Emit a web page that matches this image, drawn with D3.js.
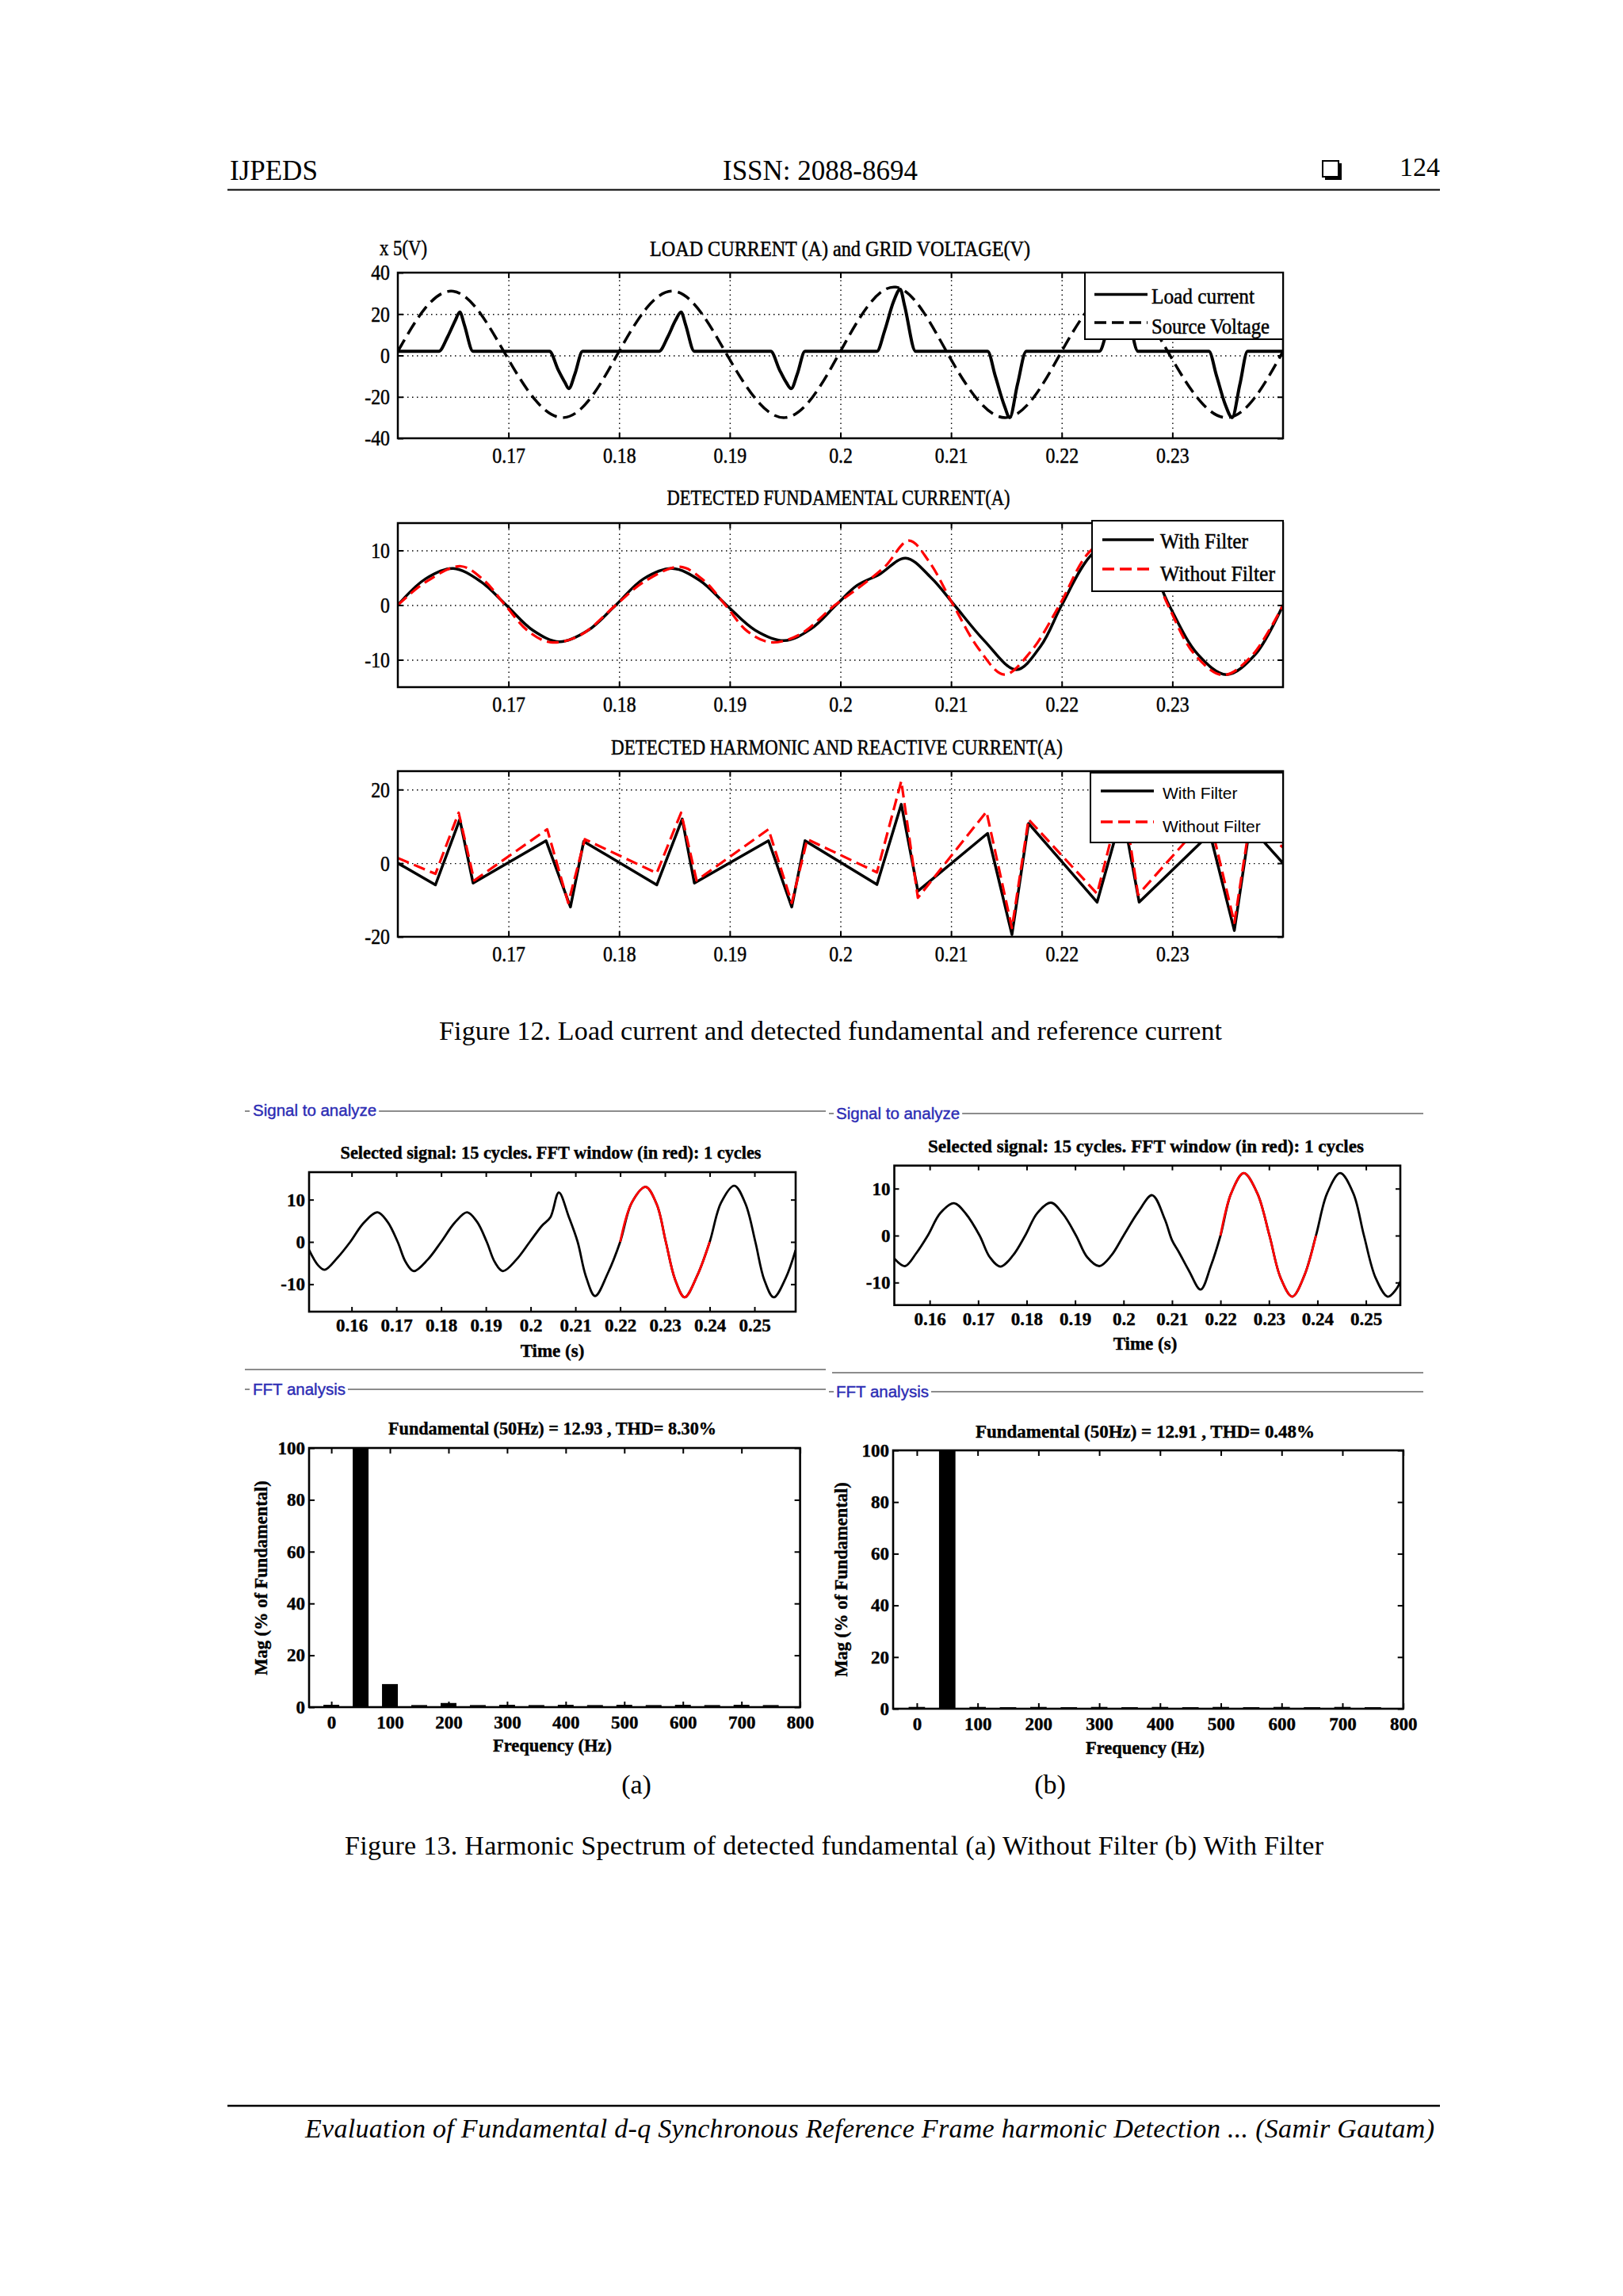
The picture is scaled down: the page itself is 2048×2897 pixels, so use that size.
<!DOCTYPE html>
<html>
<head>
<meta charset="utf-8">
<script src="https://cdn.jsdelivr.net/npm/d3@7"></script>
<style>
  html, body { margin: 0; padding: 0; background: #fff; overflow: hidden; }
  svg { display: block; }
</style>
</head>
<body>
<svg id="page" width="2048" height="2897"></svg>
<script>
// ---------- data ----------
// Fig 12 top: load current (A) and grid voltage (V, x5)
const loadT = [0.16,0.1637,0.1645,0.1652,0.1656,0.1660,0.1668,
  0.1737,0.1745,0.1751,0.17545,0.1760,0.1767,
  0.1836,0.1844,0.1851,0.1856,0.1860,0.1868,
  0.1937,0.1945,0.1951,0.19555,0.1961,0.1968,
  0.2033,0.2040,0.2048,0.2054,0.2058,0.2068,
  0.2133,0.2140,0.2148,0.2153,0.2160,0.2168,
  0.2234,0.2241,0.2249,0.2255,0.2259,0.2269,
  0.2333,0.2340,0.2348,0.2354,0.2361,0.2368,0.2400]
const loadA = [2,2,9,17,21,15,2,
  2,-7,-13,-16,-9,2,
  2,9,17,21,15,2,
  2,-7,-13,-16,-9,2,
  2,12,26,32,24,2,
  2,-10,-24,-30,-14,2,
  2,12,26,32,24,2,
  2,-10,-24,-30,-14,2,2]
const voltT = [0.16,0.1625,0.165,0.1675,0.17,0.1725,0.175,0.1775,0.18,0.1825,0.185,0.1875,0.19,0.1925,0.195,0.1975,
  0.20,0.2025,0.205,0.2075,0.21,0.2125,0.215,0.2175,0.22,0.2225,0.225,0.2275,0.23,0.2325,0.235,0.2375,0.24]
const voltV = [2,23,31,20,-2,-22,-30,-20,2,23,31,20,-2,-22,-30,-20,
  2,24,33,21,-2,-22,-30,-20,2,23,31,20,-2,-22,-30,-20,2]

// Fig 12 middle: detected fundamental current
const fundFiltT = [0.16,0.1625,0.165,0.1675,0.1698,0.1722,0.1746,0.1772,0.1797,0.1822,0.1848,0.1873,0.1897,0.1923,0.1949,0.1973,
  0.1996,0.2015,0.2035,0.2059,0.2082,0.2103,0.2130,0.2159,0.2181,0.2200,0.2226,0.2253,0.2276,0.2297,0.2323,0.2349,0.2375,0.2400]
const fundFiltV = [0,4.8,6.7,4.3,0,-4.6,-6.7,-4.6,0,4.8,6.7,4.5,0,-4.6,-6.5,-4.4,
  0,3.6,5.6,8.6,5.0,0,-6.5,-11.8,-7.5,0,9,12.8,9,0,-9,-12.7,-9,0]
const fundRawT = [0.16,0.1625,0.1657,0.1678,0.1697,0.1718,0.1738,0.1765,0.1797,0.1822,0.1855,0.1876,0.1896,0.1916,0.1937,0.1963,
  0.1995,0.2018,0.2040,0.2062,0.2080,0.2102,0.2125,0.2148,0.2172,0.2198,0.2224,0.2250,0.2275,0.2296,0.2320,0.2346,0.2372,0.2400]
const fundRawV = [0,4.2,7.1,4.5,0,-4.8,-6.8,-5.5,0,4.2,7.0,4.6,0,-4.8,-6.8,-5.4,
  0,3.4,7.0,11.8,8.0,0,-8,-12.7,-8.5,0,9.5,13,9.5,0,-9,-12.8,-9.2,0]

// Fig 12 bottom: detected harmonic and reactive current
const harmFiltT = [0.1600,0.1634,0.1656,0.1668,0.1734,0.1756,0.1768,0.1834,0.1857,0.1868,0.1935,0.1956,0.1968,
  0.2033,0.2055,0.2070,0.2133,0.2155,0.2170,0.2232,0.2255,0.2270,0.2334,0.2356,0.2370,0.2400]
const harmFiltV = [0,-5.9,11.9,-5.4,6.1,-11.9,5.9,-5.9,12,-5.4,6.1,-11.9,6.1,
  -5.8,16,-7.6,8.1,-19.4,10.8,-10.6,14,-10.6,8,-18.3,10,0]
const harmRawT = [0.1600,0.1634,0.1655,0.1669,0.1735,0.1754,0.1769,0.1834,0.1856,0.1870,0.1935,0.1956,0.1970,
  0.2033,0.2055,0.2070,0.2132,0.2155,0.2170,0.2232,0.2255,0.2269,0.2333,0.2356,0.2370,0.2400]
const harmRawV = [1.4,-2.9,13.7,-4.7,9.2,-10.8,6.5,-2.7,13.7,-4.7,9.2,-10.8,6.5,
  -2.5,22.3,-9.4,14,-17.6,11.9,-8.3,19,-8.6,13,-16.2,11,4.3]

// Fig 13: signals to analyze
const sigAT = [0.1505,0.1525,0.1540,0.1568,0.1597,0.1627,0.1658,0.1680,0.1703,0.1721,0.1739,0.1770,0.1800,0.1830,0.1858,0.1880,
  0.1902,0.1920,0.1938,0.1968,0.1998,0.2025,0.2044,0.2063,0.2085,0.2105,0.2123,0.2144,0.2172,0.2200,0.2226,0.2257,
  0.2282,0.2302,0.2323,0.2344,0.2372,0.2400,0.2425,0.2455,0.2480,0.2502,0.2522,0.2543,0.2570,0.2592]
const sigAV = [-1.9,-5.5,-6.6,-3.8,0,4.5,7.0,4.8,0,-4.8,-6.9,-4.2,0,4.5,7.0,4.8,
  0,-4.8,-6.9,-4.2,0,3.8,5.8,11.7,6,0,-8,-12.8,-7.5,0,9.3,13,
  8.8,0,-9,-13.1,-8,0,9.2,13.3,9,0,-9,-13.1,-8.5,-1.9]
const sigBT = [0.1527,0.1549,0.1572,0.1596,0.1622,0.1650,0.1675,0.1703,0.1724,0.1746,0.1772,0.1797,0.1822,0.1850,0.1875,0.1902,
  0.1925,0.1950,0.1975,0.2000,0.2030,0.2059,0.2085,0.2100,0.2114,0.2135,0.2159,0.2180,0.2200,0.2222,0.2248,0.2276,
  0.2301,0.2324,0.2348,0.2373,0.2397,0.2420,0.2447,0.2474,0.2496,0.2520,0.2545,0.2562,0.2571]
const sigBV = [-4.9,-6.5,-3.8,0,4.8,6.9,4.6,0,-4.6,-6.6,-4.2,0,4.8,7.0,4.6,0,
  -4.6,-6.5,-4.2,0,5.0,8.6,3.5,-1.0,-3.5,-7.5,-11.5,-6.5,0,9.0,13.3,9.0,
  0,-9,-13,-8.5,0,9.0,13.3,9.0,0,-9,-13,-11.5,-9.8]
const fftWindow = [0.22, 0.24]

// Fig 13: harmonic spectrum (% of fundamental)
const fftHz = [0,50,100,150,200,250,300,350,400,450,500,550,600,650,700,750]
const magNoFilter = [0.9,100,8.9,0.8,1.6,0.8,0.9,0.8,0.9,0.8,0.9,0.8,0.9,0.8,0.9,0.8]
const magFilter = [0.7,100,0.7,0.6,0.7,0.6,0.7,0.6,0.7,0.6,0.7,0.6,0.7,0.6,0.7,0.6]

// tick values
const tTicks12 = [0.17,0.18,0.19,0.2,0.21,0.22,0.23]
const yTicksLoad = [-40,-20,0,20,40]
const yTicksFund = [-10,0,10]
const yTicksHarm = [-20,0,20]
const tTicksSig = [0.16,0.17,0.18,0.19,0.2,0.21,0.22,0.23,0.24,0.25]
const yTicksSig = [-10,0,10]
const hzTicks = [0,100,200,300,400,500,600,700,800]
const pctTicks = [0,20,40,60,80,100]

// ---------- drawing ----------
const SERIF = "'Liberation Serif','Times New Roman',serif"
const SANS = "'Liberation Sans',Arial,sans-serif"
const BLUE = "#2c2cb4"
const RED = "#ff0000"
const svg = d3.select("#page")
svg.append("rect").attr("width", 2048).attr("height", 2897).attr("fill", "#fff")

function txt(parent, x, y, s, o = {}) {
  const t = parent.append("text").attr("x", x).attr("y", y).text(s)
    .attr("font-family", o.family || SERIF)
    .attr("font-size", o.size || 34)
    .attr("text-anchor", o.anchor || "start")
    .attr("fill", o.fill || "#000")
  if (o.weight) t.attr("font-weight", o.weight)
  if (o.italic) t.attr("font-style", "italic")
  if (o.heavy) t.attr("stroke", o.fill || "#000").attr("stroke-width", o.heavy)
  if (o.width) t.attr("textLength", o.width).attr("lengthAdjust", o.adjust || "spacingAndGlyphs")
  if (o.rotate) t.attr("transform", `rotate(${o.rotate},${x},${y})`)
  return t
}

// narrow the glyphs a bit, the matlab labels are condensed
function squeeze(sel, k) {
  sel.each(function () {
    const w = this.getComputedTextLength()
    d3.select(this).attr("textLength", w * k).attr("lengthAdjust", "spacingAndGlyphs")
  })
}

function hline(x1, x2, y, color, w) {
  svg.append("line").attr("x1", x1).attr("x2", x2).attr("y1", y).attr("y2", y)
    .attr("stroke", color).attr("stroke-width", w)
}

function axisAt(g, gen, tx, ty, tickW) {
  const a = g.append("g").attr("transform", `translate(${tx},${ty})`).call(gen)
  a.select(".domain").remove()
  a.selectAll("line").attr("stroke", "#000").attr("stroke-width", tickW)
  return a
}

// ---- page header / footer ----
txt(svg, 290, 227, "IJPEDS", {size: 35})
txt(svg, 1035, 227, "ISSN: 2088-8694", {size: 35, anchor: "middle"})
txt(svg, 1817, 222, "124", {size: 34, anchor: "end"})
svg.append("rect").attr("x", 1672).attr("y", 206).attr("width", 21).attr("height", 21)
  .attr("fill", "#000")
svg.append("rect").attr("x", 1669).attr("y", 203).attr("width", 20).attr("height", 20)
  .attr("fill", "#fff").attr("stroke", "#000").attr("stroke-width", 2)
hline(287, 1817, 239.5, "#000", 2.2)

hline(287, 1817, 2657, "#000", 2.5)
txt(svg, 1810, 2697, "Evaluation of Fundamental d-q Synchronous Reference Frame harmonic Detection ... (Samir Gautam)",
  {size: 34, anchor: "end", italic: true, width: 1425, adjust: "spacing"})

// ---- figure 12 ----
function wavePlot(c) {
  const x = d3.scaleLinear().domain([0.16, 0.24]).range([c.left, c.right])
  const y = d3.scaleLinear().domain(c.yDomain).range([c.bottom, c.top])
  const w = c.right - c.left, h = c.bottom - c.top
  const g = svg.append("g")

  g.append("clipPath").attr("id", "clip-" + c.id)
    .append("rect").attr("x", c.left).attr("y", c.top).attr("width", w).attr("height", h)

  // dotted grid
  const yGrid = c.yTicks.filter(v => v > c.yDomain[0] && v < c.yDomain[1])
  const grid = g.append("g")
  grid.append("g").attr("transform", `translate(0,${c.bottom})`)
    .call(d3.axisBottom(x).tickValues(tTicks12).tickSize(-h).tickFormat(""))
  grid.append("g").attr("transform", `translate(${c.left},0)`)
    .call(d3.axisLeft(y).tickValues(yGrid).tickSize(-w).tickFormat(""))
  grid.selectAll(".domain").remove()
  grid.selectAll("line").attr("stroke", "#000").attr("stroke-width", 1.4).attr("stroke-dasharray", "1.5,4.5")

  const plot = g.append("g").attr("clip-path", `url(#clip-${c.id})`)
  c.series.forEach(s => {
    const line = d3.line().x(d => x(d[0])).y(d => y(d[1])).curve(s.curve)
    plot.append("path").datum(d3.zip(s.t, s.v)).attr("d", line)
      .attr("fill", "none").attr("stroke", s.color).attr("stroke-width", s.width)
      .attr("stroke-dasharray", s.dash || null).attr("stroke-linejoin", "round")
  })

  g.append("rect").attr("x", c.left).attr("y", c.top).attr("width", w).attr("height", h)
    .attr("fill", "none").attr("stroke", "#000").attr("stroke-width", 2.5)

  const xb = axisAt(g, d3.axisBottom(x).tickValues(tTicks12).tickSizeInner(-7).tickSizeOuter(0)
    .tickPadding(11).tickFormat(d => String(d)), 0, c.bottom, 2)
  axisAt(g, d3.axisTop(x).tickValues(tTicks12).tickSizeInner(-7).tickSizeOuter(0).tickFormat(""), 0, c.top, 2)
  const yl = axisAt(g, d3.axisLeft(y).tickValues(c.yTicks).tickSizeInner(-7).tickSizeOuter(0)
    .tickPadding(10).tickFormat(d => String(d)), c.left, 0, 2)
  axisAt(g, d3.axisRight(y).tickValues(c.yTicks).tickSizeInner(-7).tickSizeOuter(0).tickFormat(""), c.right, 0, 2)
  ;[xb, yl].forEach(a => {
    a.attr("font-family", SERIF).attr("font-size", 28)
    a.selectAll("text").attr("fill", "#000").attr("stroke", "#000").attr("stroke-width", 0.5)
    squeeze(a.selectAll("text"), 0.85)
  })

  // legend
  const L = c.legend
  const lg = g.append("g")
  lg.append("rect").attr("x", L.x0).attr("y", L.y0).attr("width", L.x1 - L.x0).attr("height", L.y1 - L.y0)
    .attr("fill", "#fff").attr("stroke", "#000").attr("stroke-width", 2)
  L.items.forEach(it => {
    lg.append("line").attr("x1", L.lx0).attr("x2", L.lx1).attr("y1", it.ly).attr("y2", it.ly)
      .attr("stroke", it.color).attr("stroke-width", it.width).attr("stroke-dasharray", it.dash || null)
    txt(lg, L.tx, it.ty, it.label, {family: L.family, size: L.size, width: it.tw, heavy: L.heavy})
  })
}

wavePlot({
  id: "load", left: 502, right: 1619, top: 344, bottom: 553,
  yDomain: [-40, 40], yTicks: yTicksLoad,
  series: [
    {t: voltT, v: voltV, color: "#000", width: 3.5, dash: "17,8", curve: d3.curveNatural},
    {t: loadT, v: loadA, color: "#000", width: 4, curve: d3.curveMonotoneX}
  ],
  legend: {x0: 1369, y0: 344, x1: 1619, y1: 428, lx0: 1381, lx1: 1448, tx: 1453, family: SERIF, size: 28, heavy: 0.5,
    items: [
      {ly: 371.5, ty: 383, label: "Load current", tw: 130, color: "#000", width: 3.5},
      {ly: 407, ty: 421, label: "Source Voltage", tw: 149, color: "#000", width: 3.5, dash: "15,7"}
    ]}
})
txt(svg, 1060, 323, "LOAD CURRENT (A) and GRID VOLTAGE(V)", {size: 28, anchor: "middle", width: 480, heavy: 0.5})
txt(svg, 479, 322, "x 5(V)", {size: 28, width: 60, heavy: 0.5})

wavePlot({
  id: "fund", left: 502, right: 1619, top: 660, bottom: 867,
  yDomain: [-15, 15], yTicks: yTicksFund,
  series: [
    {t: fundFiltT, v: fundFiltV, color: "#000", width: 3.5, curve: d3.curveCatmullRom},
    {t: fundRawT, v: fundRawV, color: RED, width: 3.2, dash: "15,7", curve: d3.curveCatmullRom}
  ],
  legend: {x0: 1378, y0: 657, x1: 1619, y1: 746, lx0: 1391, lx1: 1456, tx: 1464, family: SERIF, size: 28, heavy: 0.5,
    items: [
      {ly: 681, ty: 692, label: "With Filter", tw: 111, color: "#000", width: 3.5},
      {ly: 718, ty: 733, label: "Without Filter", tw: 145, color: RED, width: 3.5, dash: "15,7"}
    ]}
})
txt(svg, 1058, 637, "DETECTED FUNDAMENTAL CURRENT(A)", {size: 28, anchor: "middle", width: 433, heavy: 0.5})

wavePlot({
  id: "harm", left: 502, right: 1619, top: 973, bottom: 1182,
  yDomain: [-20, 25], yTicks: yTicksHarm,
  series: [
    {t: harmFiltT, v: harmFiltV, color: "#000", width: 3.5, curve: d3.curveLinear},
    {t: harmRawT, v: harmRawV, color: RED, width: 3.2, dash: "15,7", curve: d3.curveLinear}
  ],
  legend: {x0: 1376, y0: 975, x1: 1619, y1: 1063, lx0: 1389, lx1: 1456, tx: 1467, family: SANS, size: 21,
    items: [
      {ly: 998, ty: 1008, label: "With Filter", color: "#000", width: 3.5},
      {ly: 1037, ty: 1050, label: "Without Filter", color: RED, width: 3.5, dash: "15,7"}
    ]}
})
txt(svg, 1056, 952, "DETECTED HARMONIC AND REACTIVE CURRENT(A)", {size: 28, anchor: "middle", width: 570, heavy: 0.5})

txt(svg, 554, 1312, "Figure 12. Load current and detected fundamental and reference current",
  {size: 34, width: 988, adjust: "spacing"})

// ---- figure 13 ----
function panelHead(x0, x1, textX, baseline, lineY, label) {
  hline(x0, x0 + 6, lineY, "#8c8c8c", 2)
  const t = txt(svg, textX, baseline, label, {family: SANS, size: 20.5, fill: BLUE, heavy: 0.4})
  const end = textX + t.node().getComputedTextLength() + 3
  hline(end, x1, lineY, "#8c8c8c", 2)
}

function boldLabels(a) {
  a.attr("font-family", SERIF).attr("font-size", 23).attr("font-weight", "bold")
  a.selectAll("text").attr("fill", "#000").attr("stroke", "#000").attr("stroke-width", 0.4)
}

function signalPlot(c) {
  const x = d3.scaleLinear().domain(c.xDomain).range([c.left, c.right])
  const y = d3.scaleLinear().domain(c.yDomain).range([c.bottom, c.top])
  const w = c.right - c.left, h = c.bottom - c.top
  const g = svg.append("g")
  g.append("clipPath").attr("id", "clip-" + c.id)
    .append("rect").attr("x", c.left).attr("y", c.top).attr("width", w).attr("height", h)

  const pts = d3.zip(c.t, c.v)
  const line = d3.line().x(d => x(d[0])).y(d => y(d[1])).curve(d3.curveCatmullRom)
  const plot = g.append("g").attr("clip-path", `url(#clip-${c.id})`)
  plot.append("path").datum(pts).attr("d", line).attr("fill", "none")
    .attr("stroke", "#000").attr("stroke-width", 2.8)
  plot.append("path").datum(pts.filter(d => d[0] >= fftWindow[0] && d[0] <= fftWindow[1]))
    .attr("d", line).attr("fill", "none").attr("stroke", RED).attr("stroke-width", 2.8)

  g.append("rect").attr("x", c.left).attr("y", c.top).attr("width", w).attr("height", h)
    .attr("fill", "none").attr("stroke", "#000").attr("stroke-width", 2.6)
  const xb = axisAt(g, d3.axisBottom(x).tickValues(tTicksSig).tickSizeInner(-6).tickSizeOuter(0)
    .tickPadding(9).tickFormat(d => String(d)), 0, c.bottom, 2)
  axisAt(g, d3.axisTop(x).tickValues(tTicksSig).tickSizeInner(-6).tickSizeOuter(0).tickFormat(""), 0, c.top, 2)
  const yl = axisAt(g, d3.axisLeft(y).tickValues(yTicksSig).tickSizeInner(-6).tickSizeOuter(0)
    .tickPadding(5).tickFormat(d => String(d)), c.left, 0, 2)
  axisAt(g, d3.axisRight(y).tickValues(yTicksSig).tickSizeInner(-6).tickSizeOuter(0).tickFormat(""), c.right, 0, 2)
  boldLabels(xb); boldLabels(yl)

  txt(svg, c.titleX, c.titleY, "Selected signal: 15 cycles. FFT window (in red): 1 cycles",
    {size: 24, weight: "bold", anchor: "middle", width: c.titleW, heavy: 0.4})
  txt(svg, c.labelX, c.labelY, "Time (s)", {size: 23, weight: "bold", anchor: "middle", heavy: 0.4})
}

function fftPlot(c) {
  const x = d3.scaleLinear().domain(c.xDomain).range([c.left, c.right])
  const y = d3.scaleLinear().domain([0, 100]).range([c.bottom, c.top])
  const w = c.right - c.left, h = c.bottom - c.top
  const barHz = 27
  const g = svg.append("g")
  g.selectAll("rect.bar").data(d3.zip(fftHz, c.mag)).join("rect").attr("class", "bar")
    .attr("x", d => x(d[0] - barHz / 2)).attr("width", x(barHz) - x(0))
    .attr("y", d => y(d[1])).attr("height", d => y(0) - y(d[1]))
    .attr("fill", "#000")

  g.append("rect").attr("x", c.left).attr("y", c.top).attr("width", w).attr("height", h)
    .attr("fill", "none").attr("stroke", "#000").attr("stroke-width", 2.6)
  const xb = axisAt(g, d3.axisBottom(x).tickValues(hzTicks).tickSizeInner(-7).tickSizeOuter(0)
    .tickPadding(11).tickFormat(d => String(d)), 0, c.bottom, 2)
  axisAt(g, d3.axisTop(x).tickValues(hzTicks).tickSizeInner(-7).tickSizeOuter(0).tickFormat(""), 0, c.top, 2)
  const yl = axisAt(g, d3.axisLeft(y).tickValues(pctTicks).tickSizeInner(-7).tickSizeOuter(0)
    .tickPadding(5).tickFormat(d => String(d)), c.left, 0, 2)
  axisAt(g, d3.axisRight(y).tickValues(pctTicks).tickSizeInner(-7).tickSizeOuter(0).tickFormat(""), c.right, 0, 2)
  boldLabels(xb); boldLabels(yl)

  txt(svg, c.titleX, c.titleY, c.title, {size: 23, weight: "bold", anchor: "middle", width: c.titleW, heavy: 0.4})
  txt(svg, c.labelX, c.labelY, "Frequency (Hz)", {size: 22.5, weight: "bold", anchor: "middle", heavy: 0.4})
  txt(svg, c.yLabelX, c.yLabelY, "Mag (% of Fundamental)",
    {size: 22.5, weight: "bold", anchor: "middle", rotate: -90, heavy: 0.4})
}

// (a) without filter
panelHead(309, 1042, 319, 1408, 1402, "Signal to analyze")
signalPlot({id: "sigA", left: 390, right: 1004, top: 1479, bottom: 1655,
  xDomain: [0.1505, 0.2592], yDomain: [-16.5, 16.5], t: sigAT, v: sigAV,
  titleX: 695, titleY: 1462, titleW: 531, labelX: 697, labelY: 1712})
hline(309, 1042, 1728, "#8c8c8c", 2)
panelHead(309, 1042, 319, 1760, 1753, "FFT analysis")
fftPlot({left: 390, right: 1009.6, top: 1827, bottom: 2154, xDomain: [-38, 800], mag: magNoFilter,
  title: "Fundamental (50Hz) = 12.93 , THD= 8.30%", titleX: 697, titleY: 1810, titleW: 414,
  labelX: 697, labelY: 2210, yLabelX: 337, yLabelY: 1991})

// (b) with filter
panelHead(1046, 1796, 1055, 1412, 1405, "Signal to analyze")
signalPlot({id: "sigB", left: 1128.5, right: 1767, top: 1470.7, bottom: 1646.7,
  xDomain: [0.1527, 0.2571], yDomain: [-14.8, 14.9], t: sigBT, v: sigBV,
  titleX: 1446, titleY: 1454, titleW: 550, labelX: 1445, labelY: 1703})
hline(1050, 1796, 1732, "#8c8c8c", 2)
panelHead(1046, 1796, 1055, 1763, 1756, "FFT analysis")
fftPlot({left: 1127, right: 1770.7, top: 1830, bottom: 2156, xDomain: [-39, 800], mag: magFilter,
  title: "Fundamental (50Hz) = 12.91 , THD= 0.48%", titleX: 1445, titleY: 1814, titleW: 428,
  labelX: 1445, labelY: 2213, yLabelX: 1069, yLabelY: 1993})

txt(svg, 803, 2263, "(a)", {size: 34, anchor: "middle"})
txt(svg, 1325, 2263, "(b)", {size: 34, anchor: "middle"})
txt(svg, 435, 2340, "Figure 13. Harmonic Spectrum of detected fundamental (a) Without Filter (b) With Filter",
  {size: 34, width: 1235, adjust: "spacing"})
</script>
</body>
</html>
